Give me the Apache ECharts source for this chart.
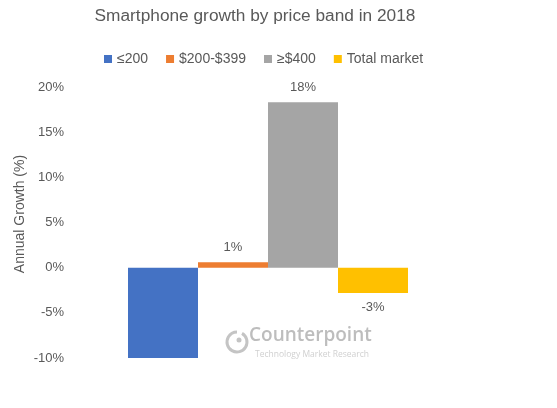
<!DOCTYPE html>
<html>
<head>
<meta charset="utf-8">
<script src="https://cdn.jsdelivr.net/npm/echarts@6/dist/echarts.min.js"></script>
<style>
  html, body { margin: 0; padding: 0; background: #fff; }
  #chart { width: 557px; height: 408px; }
</style>
</head>
<body>
<div id="chart"></div>
<script>
// data
const categories = ["2018"];
const seriesNames = ["≤200", "$200-$399", "≥$400", "Total market"];
const seriesValues = [-10, 0.6, 18.3, -2.8];
const seriesColors = ["#4472C4", "#ED7D31", "#A5A5A5", "#FFC000"];
const showLabel = [false, true, true, true];
const yTicks = { min: -10, max: 20, interval: 5 };

const myChart = echarts.init(document.getElementById("chart"));

const series = seriesNames.map((name, i) => ({
  name: name,
  type: "bar",
  barWidth: 70,
  barGap: "0%",
  itemStyle: { color: seriesColors[i] },
  label: {
    show: showLabel[i],
    position: seriesValues[i] < 0 ? "bottom" : "top",
    distance: 8,
    color: "#595959",
    fontSize: 13,
    fontFamily: "Liberation Sans",
    formatter: (p) => Math.round(p.value) + "%",
  },
  data: [seriesValues[i]],
}));

const option = {
  animation: false,
  title: {
    text: "Smartphone growth by price band in 2018",
    left: 250,
    textAlign: "center",
    top: 3,
    textStyle: {
      color: "#595959",
      fontSize: 17.3,
      fontWeight: "normal",
      fontFamily: "Liberation Sans",
    },
  },
  legend: {
    data: seriesNames,
    top: 47,
    left: 99,
    itemWidth: 8,
    itemHeight: 8,
    itemGap: 18,
    icon: "rect",
    textStyle: { color: "#595959", fontSize: 14, fontFamily: "Liberation Sans" },
  },
  grid: { left: 80, right: 101, top: 87, bottom: 50, containLabel: false },
  xAxis: {
    type: "category",
    data: categories,
    show: false,
  },
  yAxis: {
    type: "value",
    min: yTicks.min,
    max: yTicks.max,
    interval: yTicks.interval,
    axisLine: { show: false },
    axisTick: { show: false },
    splitLine: { show: false },
    axisLabel: {
      color: "#595959",
      fontSize: 13,
      fontFamily: "Liberation Sans",
      margin: 16,
      formatter: "{value}%",
    },
  },
  graphic: [
    {
      type: "text",
      x: 20,
      y: 214,
      rotation: Math.PI / 2,
      style: {
        text: "Annual Growth (%)",
        fill: "#595959",
        font: "14px 'Liberation Sans'",
        align: "center",
        verticalAlign: "middle",
      },
    },
    {
      type: "arc",
      shape: { cx: 237, cy: 342, r: 10, startAngle: -Math.PI / 3, endAngle: (3 * Math.PI) / 2 },
      style: { fill: "none", stroke: "#c4c4c4", lineWidth: 3 },
    },
    {
      type: "circle",
      shape: { cx: 239, cy: 340, r: 2.5 },
      style: { fill: "#c4c4c4" },
    },
    {
      type: "text",
      left: 249,
      top: 326,
      style: {
        text: "Counterpoint",
        fill: "#bdbdbd",
        font: "600 19px 'Open Sans'",
      },
    },
    {
      type: "text",
      left: 255,
      top: 350,
      style: {
        text: "Technology Market Research",
        fill: "#d0d0d0",
        font: "8.5px 'Open Sans'",
      },
    },
  ],
  series: series,
};

myChart.setOption(option);
</script>
</body>
</html>
